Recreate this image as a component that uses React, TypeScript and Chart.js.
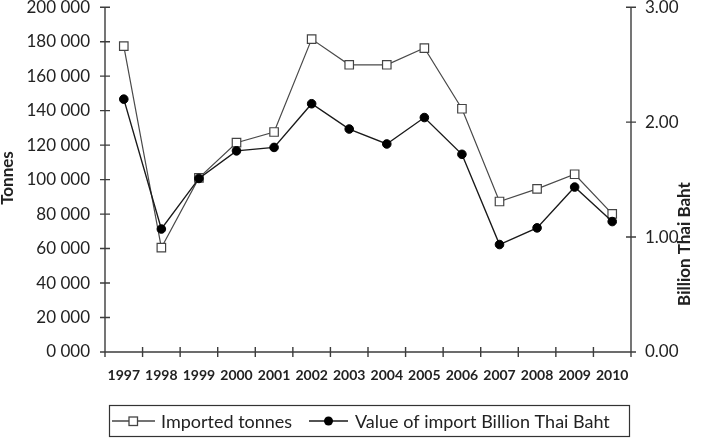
import React, { useEffect, useRef } from "react";
import { Chart, registerables } from "chart.js";

Chart.register(...registerables);

const years = ["1997", "1998", "1999", "2000", "2001", "2002", "2003", "2004", "2005", "2006", "2007", "2008", "2009", "2010"];
const importedTonnes = [177400, 60500, 101000, 121400, 127600, 181500, 166600, 166600, 176300, 141100, 87300, 94600, 103100, 80100];
const importValueBillionBaht = [2.2, 1.07, 1.51, 1.75, 1.78, 2.16, 1.94, 1.81, 2.04, 1.72, 0.935, 1.08, 1.435, 1.135];
const leftTickLabels = ["0 000", "20 000", "40 000", "60 000", "80 000", "100 000", "120 000", "140 000", "160 000", "180 000", "200 000"];
const rightTickLabels = ["0.00", "1.00", "2.00", "3.00"];
const seriesNames = ["Imported tonnes", "Value of import Billion Thai Baht"];
const axisTitles = ["Tonnes", "Billion Thai Baht"];

const W = 708;
const H = 438;
const TEXT = "#222222";
const AXIS = "#3c3c3c";
const FONT = "Lato, 'Open Sans', sans-serif";

const overlay = {
  id: "overlay",
  beforeDatasetsDraw(chart: any) {
    const { ctx, chartArea: a, scales } = chart;
    ctx.save();
    ctx.strokeStyle = AXIS;
    ctx.lineWidth = 1.4;
    ctx.beginPath();
    ctx.moveTo(a.left, a.top);
    ctx.lineTo(a.left, a.bottom);
    ctx.lineTo(a.right, a.bottom);
    ctx.lineTo(a.right, a.top);
    const y = scales.y;
    y.ticks.forEach((_t: any, i: number) => {
      const py = y.getPixelForTick(i);
      ctx.moveTo(a.left - 5, py);
      ctx.lineTo(a.left + 5, py);
    });
    const y1 = scales.y1;
    y1.ticks.forEach((_t: any, i: number) => {
      const py = y1.getPixelForTick(i);
      ctx.moveTo(a.right - 5, py);
      ctx.lineTo(a.right + 5, py);
    });
    const n = years.length;
    const step = (a.right - a.left) / n;
    for (let i = 0; i <= n; i++) {
      const px = a.left + i * step;
      ctx.moveTo(px, a.bottom - 5);
      ctx.lineTo(px, a.bottom + 5);
    }
    ctx.stroke();
    ctx.restore();
  },
  afterDraw(chart: any) {
    const { ctx } = chart;
    ctx.save();
    ctx.fillStyle = TEXT;
    ctx.textAlign = "center";
    ctx.textBaseline = "middle";
    ctx.font = `bold 17px ${FONT}`;
    ctx.save();
    ctx.translate(8, 178);
    ctx.rotate(-Math.PI / 2);
    ctx.fillText(axisTitles[0], 0, 0);
    ctx.restore();
    ctx.save();
    ctx.translate(685, 244);
    ctx.rotate(-Math.PI / 2);
    ctx.fillText(axisTitles[1], 0, 0);
    ctx.restore();

    const bx = 109.5, by = 405.5, bw = 520, bh = 31;
    ctx.strokeStyle = "#333";
    ctx.lineWidth = 1.2;
    ctx.strokeRect(bx, by, bw, bh);
    const cy = 421;
    ctx.lineWidth = 1.3;
    ctx.strokeStyle = "#444";
    ctx.beginPath();
    ctx.moveTo(112, cy);
    ctx.lineTo(155, cy);
    ctx.stroke();
    ctx.fillStyle = "#fff";
    ctx.fillRect(129, cy - 4, 8.5, 8.5);
    ctx.strokeRect(129, cy - 4, 8.5, 8.5);
    ctx.strokeStyle = "#1a1a1a";
    ctx.beginPath();
    ctx.moveTo(309, cy);
    ctx.lineTo(348, cy);
    ctx.stroke();
    ctx.fillStyle = "#000";
    ctx.beginPath();
    ctx.arc(328.5, cy, 4.5, 0, Math.PI * 2);
    ctx.fill();
    ctx.fillStyle = TEXT;
    ctx.textAlign = "left";
    ctx.font = `18px ${FONT}`;
    ctx.fillText(seriesNames[0], 161, cy + 1);
    ctx.fillText(seriesNames[1], 355, cy + 1);
    ctx.restore();
  },
};

export default function App() {
  const ref = useRef<HTMLCanvasElement | null>(null);
  useEffect(() => {
    document.body.style.margin = "0";
    const canvas = ref.current;
    if (!canvas) return;
    const chart = new Chart(canvas, {
      type: "line",
      data: {
        labels: years,
        datasets: [
          {
            label: seriesNames[0],
            data: importedTonnes,
            yAxisID: "y",
            order: 1,
            borderColor: "#4a4a4a",
            borderWidth: 1.2,
            pointStyle: "rect",
            pointRadius: 6,
            pointBackgroundColor: "#ffffff",
            pointBorderColor: "#444444",
            pointBorderWidth: 1.2,
            tension: 0,
          },
          {
            label: seriesNames[1],
            data: importValueBillionBaht,
            yAxisID: "y1",
            order: 0,
            borderColor: "#1a1a1a",
            borderWidth: 1.4,
            pointStyle: "circle",
            pointRadius: 4.3,
            pointBackgroundColor: "#000000",
            pointBorderColor: "#000000",
            pointBorderWidth: 1,
            tension: 0,
          },
        ],
      },
      options: {
        animation: false,
        responsive: false,
        devicePixelRatio: 1,
        layout: { padding: { top: 6, left: 0, right: 0, bottom: 0 } },
        plugins: { legend: { display: false }, tooltip: { enabled: false } },
        scales: {
          x: {
            type: "category",
            offset: true,
            grid: { display: false, drawTicks: false },
            border: { display: false },
            ticks: {
              color: TEXT,
              font: { family: FONT, size: 14, weight: "bold" },
              padding: 15,
              maxRotation: 0,
              autoSkip: false,
            },
            afterFit(s: any) {
              s.height = H - 352;
              s.paddingLeft = 0;
              s.paddingRight = 0;
            },
          },
          y: {
            position: "left",
            min: 0,
            max: 200000,
            grid: { display: false, drawTicks: false },
            border: { display: false },
            ticks: {
              stepSize: 20000,
              color: TEXT,
              font: { family: FONT, size: 17 },
              padding: 15,
              callback: (_v: any, i: number) => leftTickLabels[i],
            },
            afterFit(s: any) {
              s.width = 105;
              s.paddingTop = 0;
              s.paddingBottom = 0;
            },
          },
          y1: {
            position: "right",
            min: 0,
            max: 3,
            grid: { display: false, drawTicks: false },
            border: { display: false },
            ticks: {
              stepSize: 1,
              color: TEXT,
              font: { family: FONT, size: 17 },
              padding: 14,
              callback: (_v: any, i: number) => rightTickLabels[i],
            },
            afterFit(s: any) {
              s.width = W - 631;
              s.paddingTop = 0;
              s.paddingBottom = 0;
            },
          },
        },
      },
      plugins: [overlay],
    });
    return () => chart.destroy();
  }, []);
  return (
    <div style={{ position: "fixed", left: 0, top: 0, width: W, height: H, background: "#fff" }}>
      <canvas ref={ref} width={W} height={H} style={{ width: W, height: H, display: "block" }} />
    </div>
  );
}
